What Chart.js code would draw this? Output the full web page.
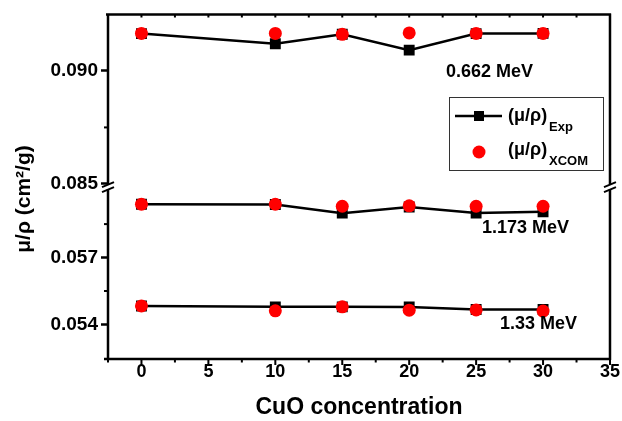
<!DOCTYPE html>
<html>
<head>
<meta charset="utf-8">
<script src="https://cdn.jsdelivr.net/npm/chart.js@4"></script>
<style>
  html, body { margin: 0; padding: 0; background: #fff; }
  #wrap { width: 622px; height: 421px; }
</style>
</head>
<body>
<div id="wrap"><canvas id="chart" width="622" height="421"></canvas></div>
<script>
// CuO concentration (x)
const concentration = [0, 10, 15, 20, 25, 30];

// experimental values, one array per energy
const exp662 = [0.09165, 0.0912, 0.09162, 0.09092, 0.09165, 0.09166];
const exp1173 = [0.05939, 0.05938, 0.05899, 0.05927, 0.059, 0.05905];
const exp133 = [0.05483, 0.05479, 0.05479, 0.05478, 0.05467, 0.05467];

// XCOM values
const xcom662 = [0.09166, 0.09166, 0.09162, 0.09168, 0.09166, 0.09166];
const xcom1173 = [0.05939, 0.05939, 0.0593, 0.05932, 0.0593, 0.0593];
const xcom133 = [0.05483, 0.05461, 0.05479, 0.05464, 0.05465, 0.0546];

const energyLabels = ["0.662 MeV", "1.173 MeV", "1.33 MeV"];
const topTicks = [0.085, 0.090];
const topMinor = [0.0875];
const botTicks = [0.054, 0.057];
const botMinor = [0.0555, 0.0585];
const xTicks = [0, 5, 10, 15, 20, 25, 30, 35];

const FONT = "'Liberation Sans', Arial, sans-serif";

function pts(ys) {
  return concentration.map((x, i) => ({ x: x, y: ys[i] }));
}

function expSet(ys, axis) {
  return {
    data: pts(ys), yAxisID: axis, order: 2,
    borderColor: "#000", backgroundColor: "#000", borderWidth: 2.5,
    pointStyle: "rect", pointRadius: 7.7, pointBorderWidth: 0, tension: 0
  };
}
function xcomSet(ys, axis) {
  return {
    data: pts(ys), yAxisID: axis, order: 1, showLine: false,
    borderColor: "#ff0000", backgroundColor: "#ff0000",
    pointStyle: "circle", pointRadius: 6.5, pointBorderWidth: 0
  };
}

function yScale(min, max, weight, ticks) {
  return {
    type: "linear", position: "left", stack: "ybreak", stackWeight: weight,
    min: min, max: max,
    afterBuildTicks: s => { s.ticks = ticks.map(v => ({ value: v })); },
    afterFit: s => { s.width = 108; },
    border: { display: false },
    grid: { drawOnChartArea: false, tickLength: 7, tickWidth: 2.5, tickColor: "#000" },
    ticks: {
      color: "#000", padding: 3,
      font: { family: FONT, size: 19, weight: "bold" },
      callback: v => v.toFixed(3)
    }
  };
}

const framePlugin = {
  id: "frame",
  afterDraw(chart) {
    const ctx = chart.ctx;
    const a = chart.chartArea;
    const xs = chart.scales.x;
    const yt = chart.scales.yTop;
    const yb = chart.scales.yBot;
    const brk = yt.bottom;
    ctx.save();
    ctx.strokeStyle = "#000";
    ctx.lineWidth = 2.5;
    // left axis, right frame, top frame, with break gap
    ctx.beginPath();
    ctx.moveTo(a.left, a.top - 1); ctx.lineTo(a.left, brk - 2);
    ctx.moveTo(a.left, brk + 3); ctx.lineTo(a.left, a.bottom);
    ctx.moveTo(a.right, a.top - 1); ctx.lineTo(a.right, brk - 2);
    ctx.moveTo(a.right, brk + 3); ctx.lineTo(a.right, a.bottom + 1);
    ctx.moveTo(a.left - 2, a.top); ctx.lineTo(a.right + 1, a.top);
    ctx.moveTo(a.left - 4, a.bottom); ctx.lineTo(a.right + 1, a.bottom);
    ctx.stroke();
    // break marks
    ctx.lineWidth = 2;
    [a.left, a.right].forEach(x => {
      ctx.beginPath();
      ctx.moveTo(x - 6, brk + 1); ctx.lineTo(x + 6, brk - 4);
      ctx.moveTo(x - 6, brk + 6); ctx.lineTo(x + 6, brk + 1);
      ctx.stroke();
    });
    // x ticks: major/minor down, top frame ticks pointing in
    ctx.lineWidth = 2;
    for (let v = -2.5; v <= 35; v += 2.5) {
      const px = xs.getPixelForValue(v);
      const major = v % 5 === 0;
      ctx.beginPath();
      ctx.moveTo(px, a.bottom); ctx.lineTo(px, a.bottom + (major ? 6 : 3.5));
      if (v > -2.5 && v < 35) { ctx.moveTo(px, a.top); ctx.lineTo(px, a.top + 3); }
      ctx.stroke();
    }
    // y minor ticks
    topMinor.forEach(v => {
      const py = yt.getPixelForValue(v);
      ctx.beginPath(); ctx.moveTo(a.left, py); ctx.lineTo(a.left - 4, py); ctx.stroke();
    });
    botMinor.forEach(v => {
      const py = yb.getPixelForValue(v);
      ctx.beginPath(); ctx.moveTo(a.left, py); ctx.lineTo(a.left - 4, py); ctx.stroke();
    });

    // energy labels
    ctx.fillStyle = "#000";
    ctx.font = "bold 18px " + FONT;
    ctx.textBaseline = "middle";
    ctx.textAlign = "left";
    ctx.fillText(energyLabels[0], 446, 72);
    ctx.fillText(energyLabels[1], 482, 228);
    ctx.fillText(energyLabels[2], 500, 324);

    // y title
    ctx.save();
    ctx.translate(24, 199);
    ctx.rotate(-Math.PI / 2);
    ctx.textAlign = "center";
    ctx.font = "bold 21px " + FONT;
    ctx.fillText("\u03bc/\u03c1 (cm\u00b2/g)", 0, 0);
    ctx.restore();

    // legend box
    ctx.lineWidth = 1;
    ctx.strokeStyle = "#333";
    ctx.strokeRect(449.5, 97.5, 154, 73);
    ctx.lineWidth = 2.5;
    ctx.strokeStyle = "#000";
    ctx.beginPath(); ctx.moveTo(455, 116); ctx.lineTo(502, 116); ctx.stroke();
    ctx.fillRect(474, 111, 10, 10);
    ctx.fillStyle = "#ff0000";
    ctx.beginPath(); ctx.arc(479, 152, 6.5, 0, Math.PI * 2); ctx.fill();
    ctx.fillStyle = "#000";
    ctx.font = "bold 18px " + FONT;
    ctx.fillText("(\u03bc/\u03c1)", 508, 116);
    ctx.fillText("(\u03bc/\u03c1)", 508, 150);
    ctx.font = "bold 13px " + FONT;
    ctx.fillText("Exp", 549, 127);
    ctx.fillText("XCOM", 549, 161);
    ctx.restore();
  }
};

new Chart(document.getElementById("chart"), {
  type: "line",
  data: {
    datasets: [
      expSet(exp662, "yTop"), expSet(exp1173, "yBot"), expSet(exp133, "yBot"),
      xcomSet(xcom662, "yTop"), xcomSet(xcom1173, "yBot"), xcomSet(xcom133, "yBot")
    ]
  },
  options: {
    responsive: false,
    animation: false,
    layout: { padding: { top: 14, right: 11, left: 0, bottom: 0 } },
    plugins: { legend: { display: false }, tooltip: { enabled: false } },
    scales: {
      x: {
        type: "linear", min: -2.5, max: 35,
        afterBuildTicks: s => { s.ticks = xTicks.map(v => ({ value: v })); },
        afterFit: s => { s.height = 62; },
        border: { display: false },
        grid: { drawOnChartArea: false, drawTicks: false },
        ticks: {
          color: "#000", padding: 2,
          font: { family: FONT, size: 18, weight: "bold" }
        },
        title: {
          display: true, text: "CuO concentration", color: "#000",
          font: { family: FONT, size: 23, weight: "bold" },
          padding: { top: 0, bottom: 0 }
        }
      },
      yBot: yScale(0.05245, 0.06020, 173, botTicks),
      yTop: yScale(0.0849, 0.0925, 172, topTicks)
    }
  },
  plugins: [framePlugin]
});
</script>
</body>
</html>
